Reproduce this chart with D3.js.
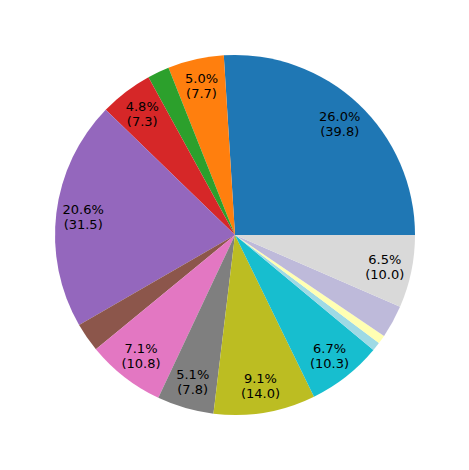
<!DOCTYPE html>
<html><head><meta charset="utf-8">
<script src="https://cdn.jsdelivr.net/npm/d3@7"></script>
<style>body{margin:0;background:#fff}</style></head>
<body><svg id="c" width="469" height="470"></svg>
<script>
const categories = ["A","B","C","D","E","F","G","H","I","J","K","L","M","N"];
const values = [39.8, 7.7, 3.0, 7.3, 31.5, 4.0, 10.8, 7.8, 14.0, 10.3, 1.2, 1.2, 4.5, 10.0];
const colors = ["#1f77b4","#ff7f0e","#2ca02c","#d62728","#9467bd","#8c564b","#e377c2","#7f7f7f","#bcbd22","#17becf","#9edae5","#ffffb3","#bebada","#d9d9d9"];
const total = d3.sum(values);
const cx = 235, cy = 235, r = 180;
const svg = d3.select("#c");
const g = svg.append("g").attr("transform", `translate(${cx},${cy})`);
// matplotlib: start at east, counterclockwise -> d3 angles measured clockwise from north
const pie = d3.pie().sort(null).value(d => d)
  .startAngle(Math.PI/2).endAngle(Math.PI/2 - 2*Math.PI);
const arcs = pie(values);
const arc = d3.arc().innerRadius(0).outerRadius(r);
g.selectAll("path").data(arcs).enter().append("path")
  .attr("d", arc).attr("fill", (d,i) => colors[i]);
const la = d3.arc().innerRadius(r*0.85).outerRadius(r*0.85);
arcs.forEach((d,i) => {
  const p = d.value/total*100;
  if (p < 4) return;
  const [x,y] = la.centroid(d);
  const t = g.append("text").attr("x", x).attr("y", y).attr("text-anchor","middle")
    .style("font-family","DejaVu Sans").style("font-size","13px").attr("fill","#000");
  t.append("tspan").attr("x", x).attr("dy","-0.2em").text(p.toFixed(1)+"%");
  t.append("tspan").attr("x", x).attr("dy","1.15em").text("("+d.value.toFixed(1)+")");
});
</script></body></html>
